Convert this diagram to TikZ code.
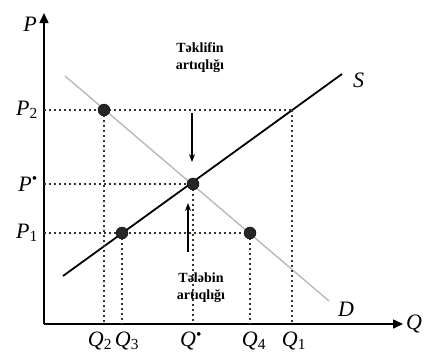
\documentclass[tikz,border=0pt]{standalone}
\usepackage{fontspec}
\setmainfont{Liberation Serif}
\usepackage{tikz}
\usetikzlibrary{arrows.meta, positioning}

\newcommand{\axlbl}[2]{\textit{#1}\textsubscript{#2}}
\newcommand{\eqlbl}[1]{\textit{#1}\textsuperscript{\textbullet}}

\begin{document}
\begin{tikzpicture}[
    x=1pt, y=-1pt,
    axis/.style={-{Triangle[length=10pt, width=9pt]}, line width=1.5pt},
    guide/.style={dash pattern=on 1.7pt off 3.3pt, line width=1.7pt, black!80!olive},
    supply/.style={line width=1.8pt, black},
    demand/.style={line width=1.4pt, gray!55},
    eqdot/.style={circle, fill=black!85, draw=black, inner sep=0pt, minimum size=12pt},
    lbl/.style={font=\fontsize{22}{24}\selectfont, inner sep=1pt},
    note/.style={font=\fontsize{14}{17}\selectfont\bfseries, align=center},
    arrow/.style={-{Stealth[length=8pt, width=6pt]}, line width=1.2pt},
  ]
  \useasboundingbox (0,0) rectangle (428,356);

  % Axes
  \coordinate (O) at (44,324);
  \coordinate (ytip) at (44,13);
  \coordinate (xtip) at (403,324);
  \draw[axis] (O) -- (ytip);
  \draw[axis] (O) -- (xtip);
  \node[lbl, left=6pt of ytip, yshift=-11pt] (plbl) {\textit{P}};
  \node[lbl, right=2pt of xtip] (qlbl) {\textit{Q}};

  % Curves
  \coordinate (s0) at (63,276);
  \coordinate (s1) at (342,74);
  \coordinate (d0) at (65,76);
  \coordinate (d1) at (329,301);
  \draw[demand] (d0) -- (d1);
  \draw[supply] (s0) -- (s1);
  \node[lbl, right=10pt of s1, yshift=-6pt] (slbl) {\textit{S}};
  \node[lbl, below right=0pt and 8pt of d1] (dlbl) {\textit{D}};

  % Points
  \coordinate (s2) at (292,110);
  \coordinate (yP2) at (44,110);
  \coordinate (yPe) at (44,184);
  \coordinate (yP1) at (44,233);
  \coordinate (xQ2) at (104,324);
  \coordinate (xQ3) at (122,324);
  \coordinate (xQe) at (193,324);
  \coordinate (xQ4) at (250,324);
  \coordinate (xQ1) at (292,324);

  % Guide lines
  \draw[guide] (yP2) -- (s2);
  \draw[guide] (yPe) -- (193,184);
  \draw[guide] (yP1) -- (250,233);
  \draw[guide] (104,110) -- (xQ2);
  \draw[guide] (122,233) -- (xQ3);
  \draw[guide] (193,184) -- (xQe);
  \draw[guide] (250,233) -- (xQ4);
  \draw[guide] (s2) -- (xQ1);

  \node[eqdot] (p2dot) at (104,110) {};
  \node[eqdot] (eq) at (193,184) {};
  \node[eqdot] (p1dot) at (122,233) {};
  \node[eqdot] (q4dot) at (250,233) {};

  % Axis labels
  \node[lbl, left=5pt of yP2] (p2lbl) {\axlbl{P}{2}};
  \node[lbl, left=5pt of yPe] (pelbl) {\eqlbl{P}};
  \node[lbl, left=5pt of yP1] (p1lbl) {\axlbl{P}{1}};
  \node[lbl, below=7pt of xQ2, xshift=-4pt] (q2lbl) {\axlbl{Q}{2}};
  \node[lbl, below=7pt of xQ3, xshift=5pt] (q3lbl) {\axlbl{Q}{3}};
  \node[lbl, below=7pt of xQe, xshift=-2pt] (qelbl) {\eqlbl{Q}};
  \node[lbl, below=7pt of xQ4, xshift=4pt] (q4lbl) {\axlbl{Q}{4}};
  \node[lbl, below=7pt of xQ1, xshift=2pt] (q1lbl) {\axlbl{Q}{1}};

  % Surplus and shortage
  \node[note] (surplus) at (200,58) {Təklifin\\artıqlığı};
  \node[note] (shortage) at (201,288) {Tələbin\\artıqlığı};
  \coordinate (sa0) at (192,113);
  \coordinate (sa1) at (188,252);
  \draw[arrow] (sa0) -- (192,162);
  \draw[arrow] (sa1) -- (188,203);

\end{tikzpicture}
\end{document}
